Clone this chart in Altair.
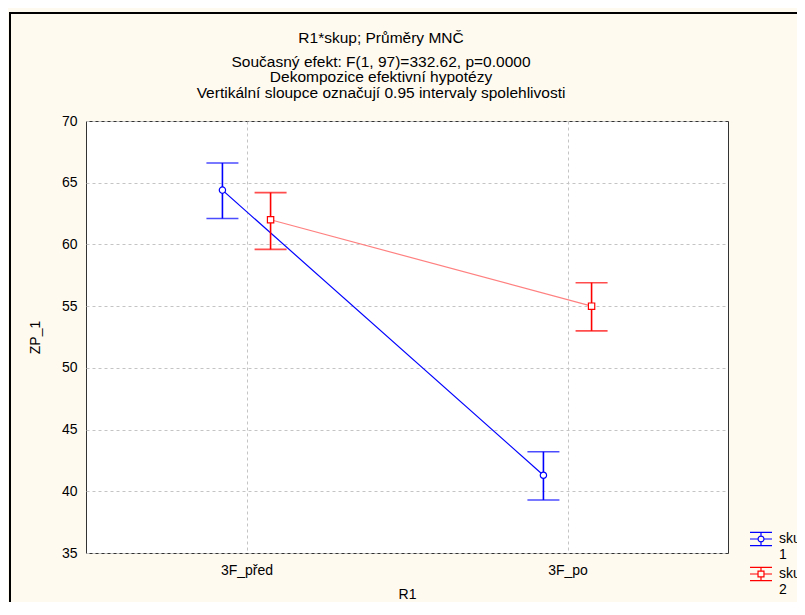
import altair as alt
import pandas as pd

# ---- data ----
categories = ["3F_před", "3F_po"]
groups = ["1", "2"]
mean_g1 = [64.4, 41.3]
low_g1 = [62.1, 39.3]
high_g1 = [66.6, 43.2]
mean_g2 = [62.0, 55.0]
low_g2 = [59.6, 53.0]
high_g2 = [64.2, 56.9]
y_ticks = [35, 40, 45, 50, 55, 60, 65, 70]

title_main = "R1*skup; Průměry MNČ"
title_sub = [
    "Současný efekt: F(1, 97)=332.62, p=0.0000",
    "Dekompozice efektivní hypotézy",
    "Vertikální sloupce označují 0.95 intervaly spolehlivosti",
]

rows = []
for g, m, lo, hi in [("1", mean_g1, low_g1, high_g1), ("2", mean_g2, low_g2, high_g2)]:
    for i, c in enumerate(categories):
        rows.append({"R1": c, "idx": i, "skup": g, "mean": m[i], "low": lo[i], "high": hi[i]})
df = pd.DataFrame(rows)

FONT = "Liberation Sans"
BLUE = "#0000FF"
RED = "#FF0000"
PALE_RED = "#FF8080"
dodge = 0.075

label_expr = "[" + ",".join("'" + c + "'" for c in categories) + "][datum.value]"

base = alt.Chart(df).transform_calculate(
    xpos=f"datum.idx + (datum.skup == '1' ? -{dodge} : {dodge})"
)

x_enc = alt.X(
    "xpos:Q",
    scale=alt.Scale(domain=[-0.5, len(categories) - 0.5], nice=False, zero=False),
    axis=alt.Axis(
        values=list(range(len(categories))),
        labelExpr=label_expr,
        title="R1",
        grid=True,
        labelPadding=10,
        titlePadding=10,
    ),
)
y_axis = alt.Axis(values=y_ticks, title="ZP_1", grid=True, labelPadding=9, titlePadding=19)
y_scale = alt.Scale(domain=[35, 70], nice=False, zero=False)

is_g1 = "datum.skup == '1'"
col_val = alt.condition(is_g1, alt.value(BLUE), alt.value(RED))

sym_circle = ("M-1,-0.6L1,-0.6M-1,0.6L1,0.6M-1,0L-0.27,0M0.27,0L1,0M0,-0.6L0,-0.27M0,0.27L0,0.6"
              "M0.27,0A0.27,0.27,0,1,1,-0.27,0A0.27,0.27,0,1,1,0.27,0")
sym_square = ("M-1,-0.6L1,-0.6M-1,0.6L1,0.6M-1,0L-0.27,0M0.27,0L1,0M0,-0.6L0,-0.27M0,0.27L0,0.6"
              "M-0.27,-0.27L0.27,-0.27L0.27,0.27L-0.27,0.27Z")

legend_obj = alt.Legend(
    title=None,
    orient="none",
    legendX=663,
    legendY=406,
    labelExpr="['skup', datum.label]",
    labelFont=FONT,
    labelFontSize=14,
    labelColor="black",
    labelOffset=6,
    symbolSize=484,
    symbolStrokeWidth=1.2,
    rowPadding=-3,
    padding=0,
)

frame = alt.Chart(pd.DataFrame({"f": [0]})).mark_rect(
    fill="transparent", stroke="black", strokeWidth=2
).encode(x=alt.value(-76), x2=alt.value(722), y=alt.value(-108), y2=alt.value(484))

# legend-only layer: no rows drawn, the legend comes from the scales
legend_layer = base.transform_filter("false").mark_point(filled=False, size=484, strokeWidth=1.2, opacity=1).encode(
    x=x_enc,
    y=alt.Y("mean:Q", scale=y_scale, axis=y_axis),
    color=alt.Color("skup:N", scale=alt.Scale(domain=groups, range=[BLUE, RED]), legend=legend_obj),
    shape=alt.Shape("skup:N", scale=alt.Scale(domain=groups, range=[sym_circle, sym_square]), legend=legend_obj),
)

line = base.mark_line(strokeWidth=1.2).encode(
    x=x_enc,
    y=alt.Y("mean:Q", scale=y_scale, axis=y_axis),
    detail="skup:N",
    stroke=alt.condition(is_g1, alt.value(BLUE), alt.value(PALE_RED)),
)

bars = base.mark_rule(strokeWidth=1.6).encode(
    x=x_enc, y=alt.Y("low:Q", scale=y_scale, axis=y_axis), y2="high:Q", color=col_val
)
cap_hi = base.mark_tick(orient="horizontal", size=32, thickness=1.6).encode(
    x=x_enc, y=alt.Y("high:Q", scale=y_scale, axis=y_axis), color=col_val
)
cap_lo = base.mark_tick(orient="horizontal", size=32, thickness=1.6).encode(
    x=x_enc, y=alt.Y("low:Q", scale=y_scale, axis=y_axis), color=col_val
)
points = base.mark_point(filled=False, fill="white", size=40, strokeWidth=1.2, opacity=1).encode(
    x=x_enc,
    y=alt.Y("mean:Q", scale=y_scale, axis=y_axis),
    color=col_val,
    shape=alt.condition(is_g1, alt.value("circle"), alt.value("square")),
)

chart = alt.layer(frame, legend_layer, line, bars, cap_hi, cap_lo, points).properties(
    width=642,
    height=432,
    padding={"left": 78, "top": 113, "right": 69, "bottom": 49},
    autosize=alt.AutoSizeParams(type="none"),
    background="#FFFAF0",
    title=alt.TitleParams(
        text=title_main,
        subtitle=title_sub,
        font=FONT,
        fontSize=15.5,
        fontWeight="normal",
        color="black",
        subtitleFont=FONT,
        subtitleFontSize=15.5,
        subtitleColor="black",
        subtitleLineHeight=15.5,
        subtitlePadding=8,
        anchor="middle",
        frame="group",
        dx=-26,
        offset=-89,
    ),
).configure_view(
    fill="white", stroke="#333333", strokeWidth=1
).configure_axis(
    labelFont=FONT,
    labelFontSize=14,
    labelColor="black",
    titleFont=FONT,
    titleFontSize=14,
    titleFontWeight="normal",
    titleColor="black",
    tickSize=0,
    domain=False,
    gridColor="#c4c4c4",
    gridDash=[3, 3],
    gridWidth=1,
)

chart.save("out.html", embed_options={"renderer": "svg", "actions": False})
